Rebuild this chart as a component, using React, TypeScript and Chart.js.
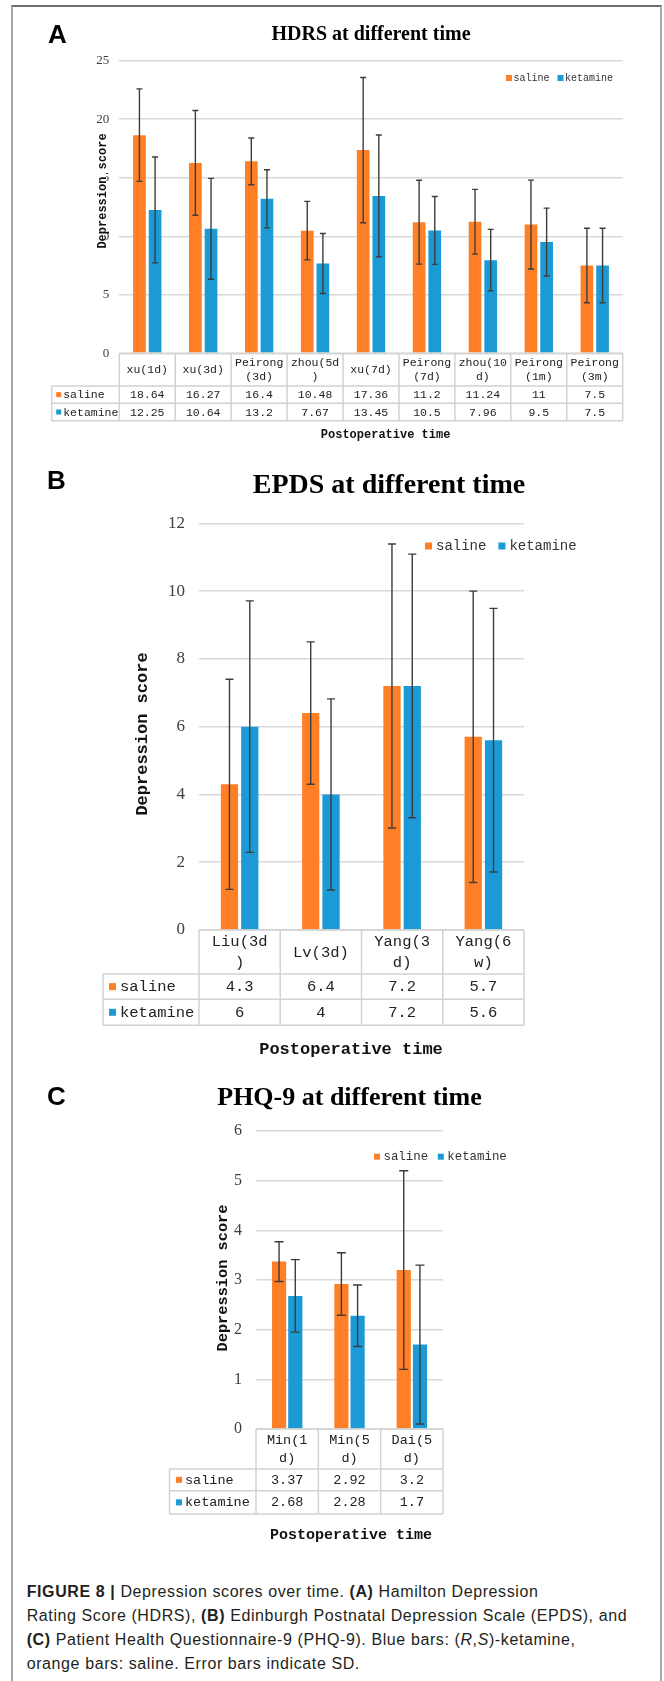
import React, { useEffect, useRef } from 'react';
import { Chart, registerables } from 'chart.js';

Chart.register(...registerables);

// ---------------- DATA ----------------
const seriesNames = ['saline', 'ketamine'];

const hdrsCategories = [
  ['xu(1d)'], ['xu(3d)'], ['Peirong', '(3d)'], ['zhou(5d', ')'], ['xu(7d)'],
  ['Peirong', '(7d)'], ['zhou(10', 'd)'], ['Peirong', '(1m)'], ['Peirong', '(3m)'],
];
const hdrsSaline = [18.64, 16.27, 16.4, 10.48, 17.36, 11.2, 11.24, 11, 7.5];
const hdrsKetamine = [12.25, 10.64, 13.2, 7.67, 13.45, 10.5, 7.96, 9.5, 7.5];
const hdrsSalineSD = [3.95, 4.48, 2.0, 2.5, 6.2, 3.58, 2.77, 3.8, 3.18];
const hdrsKetamineSD = [4.52, 4.31, 2.48, 2.56, 5.2, 2.9, 2.63, 2.9, 3.18];

const epdsCategories = [['Liu(3d', ')'], ['Lv(3d)'], ['Yang(3', 'd)'], ['Yang(6', 'w)']];
const epdsSaline = [4.3, 6.4, 7.2, 5.7];
const epdsKetamine = [6, 4, 7.2, 5.6];
const epdsSalineSD = [3.1, 2.1, 4.19, 4.3];
const epdsKetamineSD = [3.71, 2.82, 3.89, 3.89];

const phqCategories = [['Min(1', 'd)'], ['Min(5', 'd)'], ['Dai(5', 'd)']];
const phqSaline = [3.37, 2.92, 3.2];
const phqKetamine = [2.68, 2.28, 1.7];
const phqSalineSD = [0.4, 0.63, 2.0];
const phqKetamineSD = [0.73, 0.62, 1.6];

const yTitleText = 'Depression score';
const xTitleText = 'Postoperative time';

// ---------------- STYLE / LAYOUT ----------------
const ORANGE = '#FF7F27';
const BLUE = '#1B9AD6';
const MONO = '"Liberation Mono", "DejaVu Sans Mono", monospace';
const SERIF = '"Liberation Serif", "DejaVu Serif", serif';
const SANS = '"Liberation Sans", Arial, sans-serif';
const W = 664;

type Layout = {
  canvasTop: number; canvasHeight: number;
  area: { left: number; right: number; top: number; bottom: number };
  yMax: number; yStep: number; tickSize: number; tickPad: number;
  title: { x: number; baseline: number; size: number };
  letter: { x: number; baseline: number; size: number };
  legend: { x: number; y: number; sq: number; sqGap: number; itemGap: number; size: number };
  yTitle: { x: number; y: number; size: number; bg: number };
  xTitle: { x: number; y: number; size: number };
  table: { left: number; rows: number[]; size: number; lh: number; marker: number; markerOff: number; textOff: number };
  bar: { cat: number; bar: number }; cap: number;
};

type Panel = {
  letter: string; title: string;
  categories: string[][]; saline: number[]; ketamine: number[];
  salineSD: number[]; ketamineSD: number[];
  L: Layout;
};

const panels: Panel[] = [
  {
    letter: 'A', title: 'HDRS at different time',
    categories: hdrsCategories, saline: hdrsSaline, ketamine: hdrsKetamine,
    salineSD: hdrsSalineSD, ketamineSD: hdrsKetamineSD,
    L: {
      canvasTop: 0, canvasHeight: 450,
      area: { left: 119.3, right: 622.7, top: 60.7, bottom: 353.3 },
      yMax: 25, yStep: 5, tickSize: 13, tickPad: 10,
      title: { x: 371, baseline: 40, size: 20 },
      letter: { x: 48, baseline: 43, size: 26 },
      legend: { x: 506, y: 78, sq: 6, sqGap: 1.5, itemGap: 8, size: 10 },
      yTitle: { x: 101.5, y: 191, size: 12, bg: 4.5 },
      xTitle: { x: 385.6, y: 435, size: 12 },
      table: { left: 51.7, rows: [353.3, 386, 403.3, 420.7], size: 11.5, lh: 14.4, marker: 5, markerOff: 4.5, textOff: 11.5 },
      bar: { cat: 0.56, bar: 0.81 }, cap: 6,
    },
  },
  {
    letter: 'B', title: 'EPDS at different time',
    categories: epdsCategories, saline: epdsSaline, ketamine: epdsKetamine,
    salineSD: epdsSalineSD, ketamineSD: epdsKetamineSD,
    L: {
      canvasTop: 450, canvasHeight: 620,
      area: { left: 199, right: 524, top: 523.3, bottom: 930 },
      yMax: 12, yStep: 2, tickSize: 17, tickPad: 14,
      title: { x: 389, baseline: 493, size: 28 },
      letter: { x: 47, baseline: 489, size: 26 },
      legend: { x: 425, y: 546, sq: 7, sqGap: 4, itemGap: 12, size: 14 },
      yTitle: { x: 142, y: 734, size: 17, bg: 0 },
      xTitle: { x: 351, y: 1050, size: 17 },
      table: { left: 103, rows: [930, 974, 999.3, 1025.3], size: 15.5, lh: 20.6, marker: 7, markerOff: 6, textOff: 17 },
      bar: { cat: 0.5, bar: 0.85 }, cap: 8,
    },
  },
  {
    letter: 'C', title: 'PHQ-9 at different time',
    categories: phqCategories, saline: phqSaline, ketamine: phqKetamine,
    salineSD: phqSalineSD, ketamineSD: phqKetamineSD,
    L: {
      canvasTop: 1070, canvasHeight: 490,
      area: { left: 256, right: 443, top: 1131, bottom: 1429 },
      yMax: 6, yStep: 1, tickSize: 16, tickPad: 14,
      title: { x: 349.5, baseline: 1105, size: 26 },
      letter: { x: 47, baseline: 1105, size: 26 },
      legend: { x: 374, y: 1156.7, sq: 6, sqGap: 3.5, itemGap: 9.7, size: 12.4 },
      yTitle: { x: 222, y: 1278, size: 15.3, bg: 0 },
      xTitle: { x: 351, y: 1535, size: 15 },
      table: { left: 169.5, rows: [1429, 1469, 1490.7, 1514], size: 13.5, lh: 17.3, marker: 6, markerOff: 6.5, textOff: 15.5 },
      bar: { cat: 0.52, bar: 0.875 }, cap: 9,
    },
  },
];

function figurePlugin(p: Panel) {
  const L = p.L;
  const Y = (v: number) => v - L.canvasTop;
  const colors = [ORANGE, BLUE];
  return {
    id: 'figure' + p.letter,
    afterDatasetsDraw(chart: any) {
      const ctx = chart.ctx;
      const ys = chart.scales.y;
      ctx.save();
      ctx.strokeStyle = '#3c3c3c';
      ctx.lineWidth = 1.4;
      [[p.saline, p.salineSD], [p.ketamine, p.ketamineSD]].forEach(([vals, sds], di) => {
        const meta = chart.getDatasetMeta(di);
        meta.data.forEach((el: any, i: number) => {
          const cx = el.x;
          const top = ys.getPixelForValue(vals[i] + sds[i]);
          const bot = ys.getPixelForValue(Math.max(0, vals[i] - sds[i]));
          const hw = L.cap / 2;
          ctx.beginPath();
          ctx.moveTo(cx, top); ctx.lineTo(cx, bot);
          ctx.moveTo(cx - hw, top); ctx.lineTo(cx + hw, top);
          ctx.moveTo(cx - hw, bot); ctx.lineTo(cx + hw, bot);
          ctx.stroke();
        });
      });
      ctx.restore();
    },
    afterDraw(chart: any) {
      const ctx = chart.ctx;
      const xs = chart.scales.x;
      const area = chart.chartArea;
      ctx.save();
      // panel letter
      ctx.fillStyle = '#000';
      ctx.textAlign = 'left';
      ctx.textBaseline = 'alphabetic';
      ctx.font = `bold ${L.letter.size}px ${SANS}`;
      ctx.fillText(p.letter, L.letter.x, Y(L.letter.baseline));
      // title
      ctx.textAlign = 'center';
      ctx.font = `bold ${L.title.size}px ${SERIF}`;
      ctx.fillText(p.title, L.title.x, Y(L.title.baseline));
      // legend
      ctx.textBaseline = 'middle';
      ctx.textAlign = 'left';
      ctx.font = `${L.legend.size}px ${MONO}`;
      let lx = L.legend.x;
      const ly = Y(L.legend.y);
      seriesNames.forEach((name, i) => {
        ctx.fillStyle = colors[i];
        ctx.fillRect(lx, ly - L.legend.sq / 2, L.legend.sq, L.legend.sq);
        lx += L.legend.sq + L.legend.sqGap;
        ctx.fillStyle = '#333';
        ctx.fillText(name, lx, ly + 0.5);
        lx += ctx.measureText(name).width + L.legend.itemGap;
      });
      // y title
      ctx.save();
      ctx.translate(L.yTitle.x, Y(L.yTitle.y));
      ctx.rotate(-Math.PI / 2);
      ctx.font = `bold ${L.yTitle.size}px ${MONO}`;
      const tw = ctx.measureText(yTitleText).width;
      if (L.yTitle.bg > 0) {
        ctx.fillStyle = '#fff';
        ctx.fillRect(-tw / 2 - 1, -L.yTitle.bg, tw + 2, L.yTitle.bg * 2);
      }
      ctx.fillStyle = '#111';
      ctx.textAlign = 'center';
      ctx.fillText(yTitleText, 0, 1);
      ctx.restore();
      // x title
      ctx.textAlign = 'center';
      ctx.fillStyle = '#111';
      ctx.font = `bold ${L.xTitle.size}px ${MONO}`;
      ctx.fillText(xTitleText, L.xTitle.x, Y(L.xTitle.y));
      // data table
      const T = L.table;
      const n = p.categories.length;
      const cw = xs.width / n;
      const r = T.rows.map(Y);
      ctx.strokeStyle = '#d2d2d2';
      ctx.lineWidth = 1.5;
      ctx.beginPath();
      ctx.moveTo(area.left, r[0]); ctx.lineTo(area.right, r[0]);
      for (let k = 1; k < 4; k++) { ctx.moveTo(T.left, r[k]); ctx.lineTo(area.right, r[k]); }
      for (let i = 0; i <= n; i++) {
        const bx = i < n ? xs.getPixelForValue(i) - cw / 2 : xs.getPixelForValue(n - 1) + cw / 2;
        ctx.moveTo(bx, r[0]); ctx.lineTo(bx, r[3]);
      }
      ctx.moveTo(T.left, r[1]); ctx.lineTo(T.left, r[3]);
      ctx.stroke();

      ctx.fillStyle = '#222';
      ctx.font = `${T.size}px ${MONO}`;
      ctx.textAlign = 'center';
      const catMid = (r[0] + r[1]) / 2;
      p.categories.forEach((lines, i) => {
        const cx = xs.getPixelForValue(i);
        lines.forEach((ln, j) => {
          const yy = catMid + (j - (lines.length - 1) / 2) * T.lh;
          ctx.fillText(ln, cx, yy + 0.5);
        });
        ctx.fillText(String(p.saline[i]), cx, (r[1] + r[2]) / 2 + 0.5);
        ctx.fillText(String(p.ketamine[i]), cx, (r[2] + r[3]) / 2 + 0.5);
      });
      seriesNames.forEach((name, k) => {
        const my = (r[1 + k] + r[2 + k]) / 2;
        ctx.fillStyle = colors[k];
        ctx.fillRect(T.left + T.markerOff, my - T.marker / 2, T.marker, T.marker);
        ctx.fillStyle = '#222';
        ctx.textAlign = 'left';
        ctx.fillText(name, T.left + T.textOff, my + 0.5);
      });
      ctx.restore();
    },
  };
}

function PanelChart({ p }: { p: Panel }) {
  const ref = useRef<HTMLCanvasElement>(null);
  useEffect(() => {
    const L = p.L;
    const chart = new Chart(ref.current as HTMLCanvasElement, {
      type: 'bar',
      data: {
        labels: p.categories.map((c) => c.join('')),
        datasets: [
          { label: seriesNames[0], data: p.saline, backgroundColor: ORANGE, categoryPercentage: L.bar.cat, barPercentage: L.bar.bar },
          { label: seriesNames[1], data: p.ketamine, backgroundColor: BLUE, categoryPercentage: L.bar.cat, barPercentage: L.bar.bar },
        ],
      },
      options: {
        responsive: false,
        animation: false,
        layout: {
          padding: {
            left: 0,
            right: W - L.area.right,
            top: L.area.top - L.canvasTop,
            bottom: L.canvasTop + L.canvasHeight - L.area.bottom,
          },
        },
        plugins: { legend: { display: false }, title: { display: false }, tooltip: { enabled: false } },
        scales: {
          x: { display: false },
          y: {
            min: 0,
            max: L.yMax,
            ticks: { stepSize: L.yStep, padding: L.tickPad, color: '#404040', font: { family: SERIF, size: L.tickSize } },
            grid: { color: '#d9d9d9', lineWidth: 1.5, drawTicks: false },
            border: { display: false },
            afterFit: (s: any) => { s.width = L.area.left; },
          } as any,
        },
      },
      plugins: [figurePlugin(p)],
    } as any);
    return () => chart.destroy();
  }, []);
  return (
    <canvas
      ref={ref}
      width={W}
      height={p.L.canvasHeight}
      style={{ position: 'absolute', left: 0, top: p.L.canvasTop, width: W, height: p.L.canvasHeight }}
    />
  );
}

export default function App() {
  return (
    <div style={{ position: 'absolute', left: 0, top: 0, width: W, height: 1681, background: '#fff', overflow: 'hidden' }}>
      <div
        style={{
          position: 'absolute', left: 10.7, top: 5, width: 651, height: 1700, boxSizing: 'border-box',
          borderTop: '2px solid #6e6e6e', borderLeft: '2px solid #a8a8a8', borderRight: '2px solid #a8a8a8',
        }}
      />
      {panels.map((p) => <PanelChart key={p.letter} p={p} />)}
      <div
        style={{
          position: 'absolute', left: 26.7, top: 1579.8, fontFamily: SANS, fontSize: 16, letterSpacing: '0.6px',
          lineHeight: '23.9px', color: '#231f20', whiteSpace: 'nowrap',
        }}
      >
        <b>FIGURE 8 |</b> Depression scores over time. <b>(A)</b> Hamilton Depression<br />
        Rating Score (HDRS), <b>(B)</b> Edinburgh Postnatal Depression Scale (EPDS), and<br />
        <b>(C)</b> Patient Health Questionnaire-9 (PHQ-9). Blue bars: (<i>R</i>,<i>S</i>)-ketamine,<br />
        orange bars: saline. Error bars indicate SD.
      </div>
    </div>
  );
}
